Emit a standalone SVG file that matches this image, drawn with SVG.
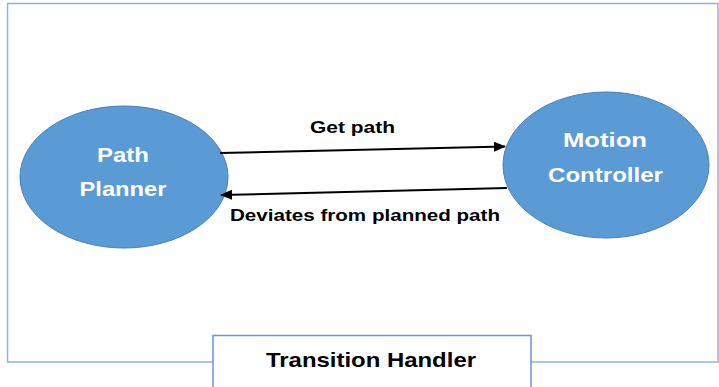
<svg xmlns="http://www.w3.org/2000/svg" width="719" height="387" viewBox="0 0 719 387">
<defs>
<style>
.node{fill:#5B9BD5;stroke:#4A80B8;stroke-width:1}
.nlabel{font-family:"Liberation Sans",Arial,sans-serif;font-weight:bold;font-size:21px;fill:#ffffff;text-anchor:middle}
.elabel{font-family:"Liberation Sans",Arial,sans-serif;font-weight:bold;font-size:17px;fill:#000000;text-anchor:middle}
.edge{stroke:#000000;stroke-width:2;fill:none;marker-end:url(#arrow)}
</style>
<marker id="arrow" viewBox="0 0 12 10" refX="11" refY="5" markerWidth="12" markerHeight="10" markerUnits="userSpaceOnUse" orient="auto">
<path d="M0,0 L12,5 L0,10 z" fill="#000000"/>
</marker>
</defs>
<rect width="719" height="387" fill="#ffffff"/>
<g id="frame">
<polyline points="213,362 7.5,362 7.5,3.5 718,3.5 718,362 531,362" fill="none" stroke="#8EB4E3" stroke-width="1.5"/>
</g>
<g id="path-planner">
<ellipse class="node" cx="124" cy="177" rx="104" ry="71"/>
<text class="nlabel" x="123" y="162" textLength="52" lengthAdjust="spacingAndGlyphs">Path</text>
<text class="nlabel" x="123" y="196" textLength="87" lengthAdjust="spacingAndGlyphs">Planner</text>
</g>
<g id="motion-controller">
<ellipse class="node" cx="606" cy="165" rx="103" ry="73"/>
<text class="nlabel" x="605" y="147" textLength="84" lengthAdjust="spacingAndGlyphs">Motion</text>
<text class="nlabel" x="605.5" y="182" textLength="115" lengthAdjust="spacingAndGlyphs">Controller</text>
</g>
<g id="connectors">
<line class="edge" x1="220" y1="153" x2="505" y2="146.5"/>
<line class="edge" x1="507" y1="188" x2="221" y2="195"/>
<text class="elabel" x="352.5" y="133" textLength="85" lengthAdjust="spacingAndGlyphs">Get path</text>
<text class="elabel" x="365" y="221" textLength="270" lengthAdjust="spacingAndGlyphs">Deviates from planned path</text>
</g>
<g id="transition-handler">
<rect x="213" y="335.5" width="318" height="60" fill="#ffffff" stroke="#7092D8" stroke-width="1.5"/>
<text class="nlabel" style="fill:#000000" x="371" y="367" textLength="210" lengthAdjust="spacingAndGlyphs">Transition Handler</text>
</g>
</svg>
